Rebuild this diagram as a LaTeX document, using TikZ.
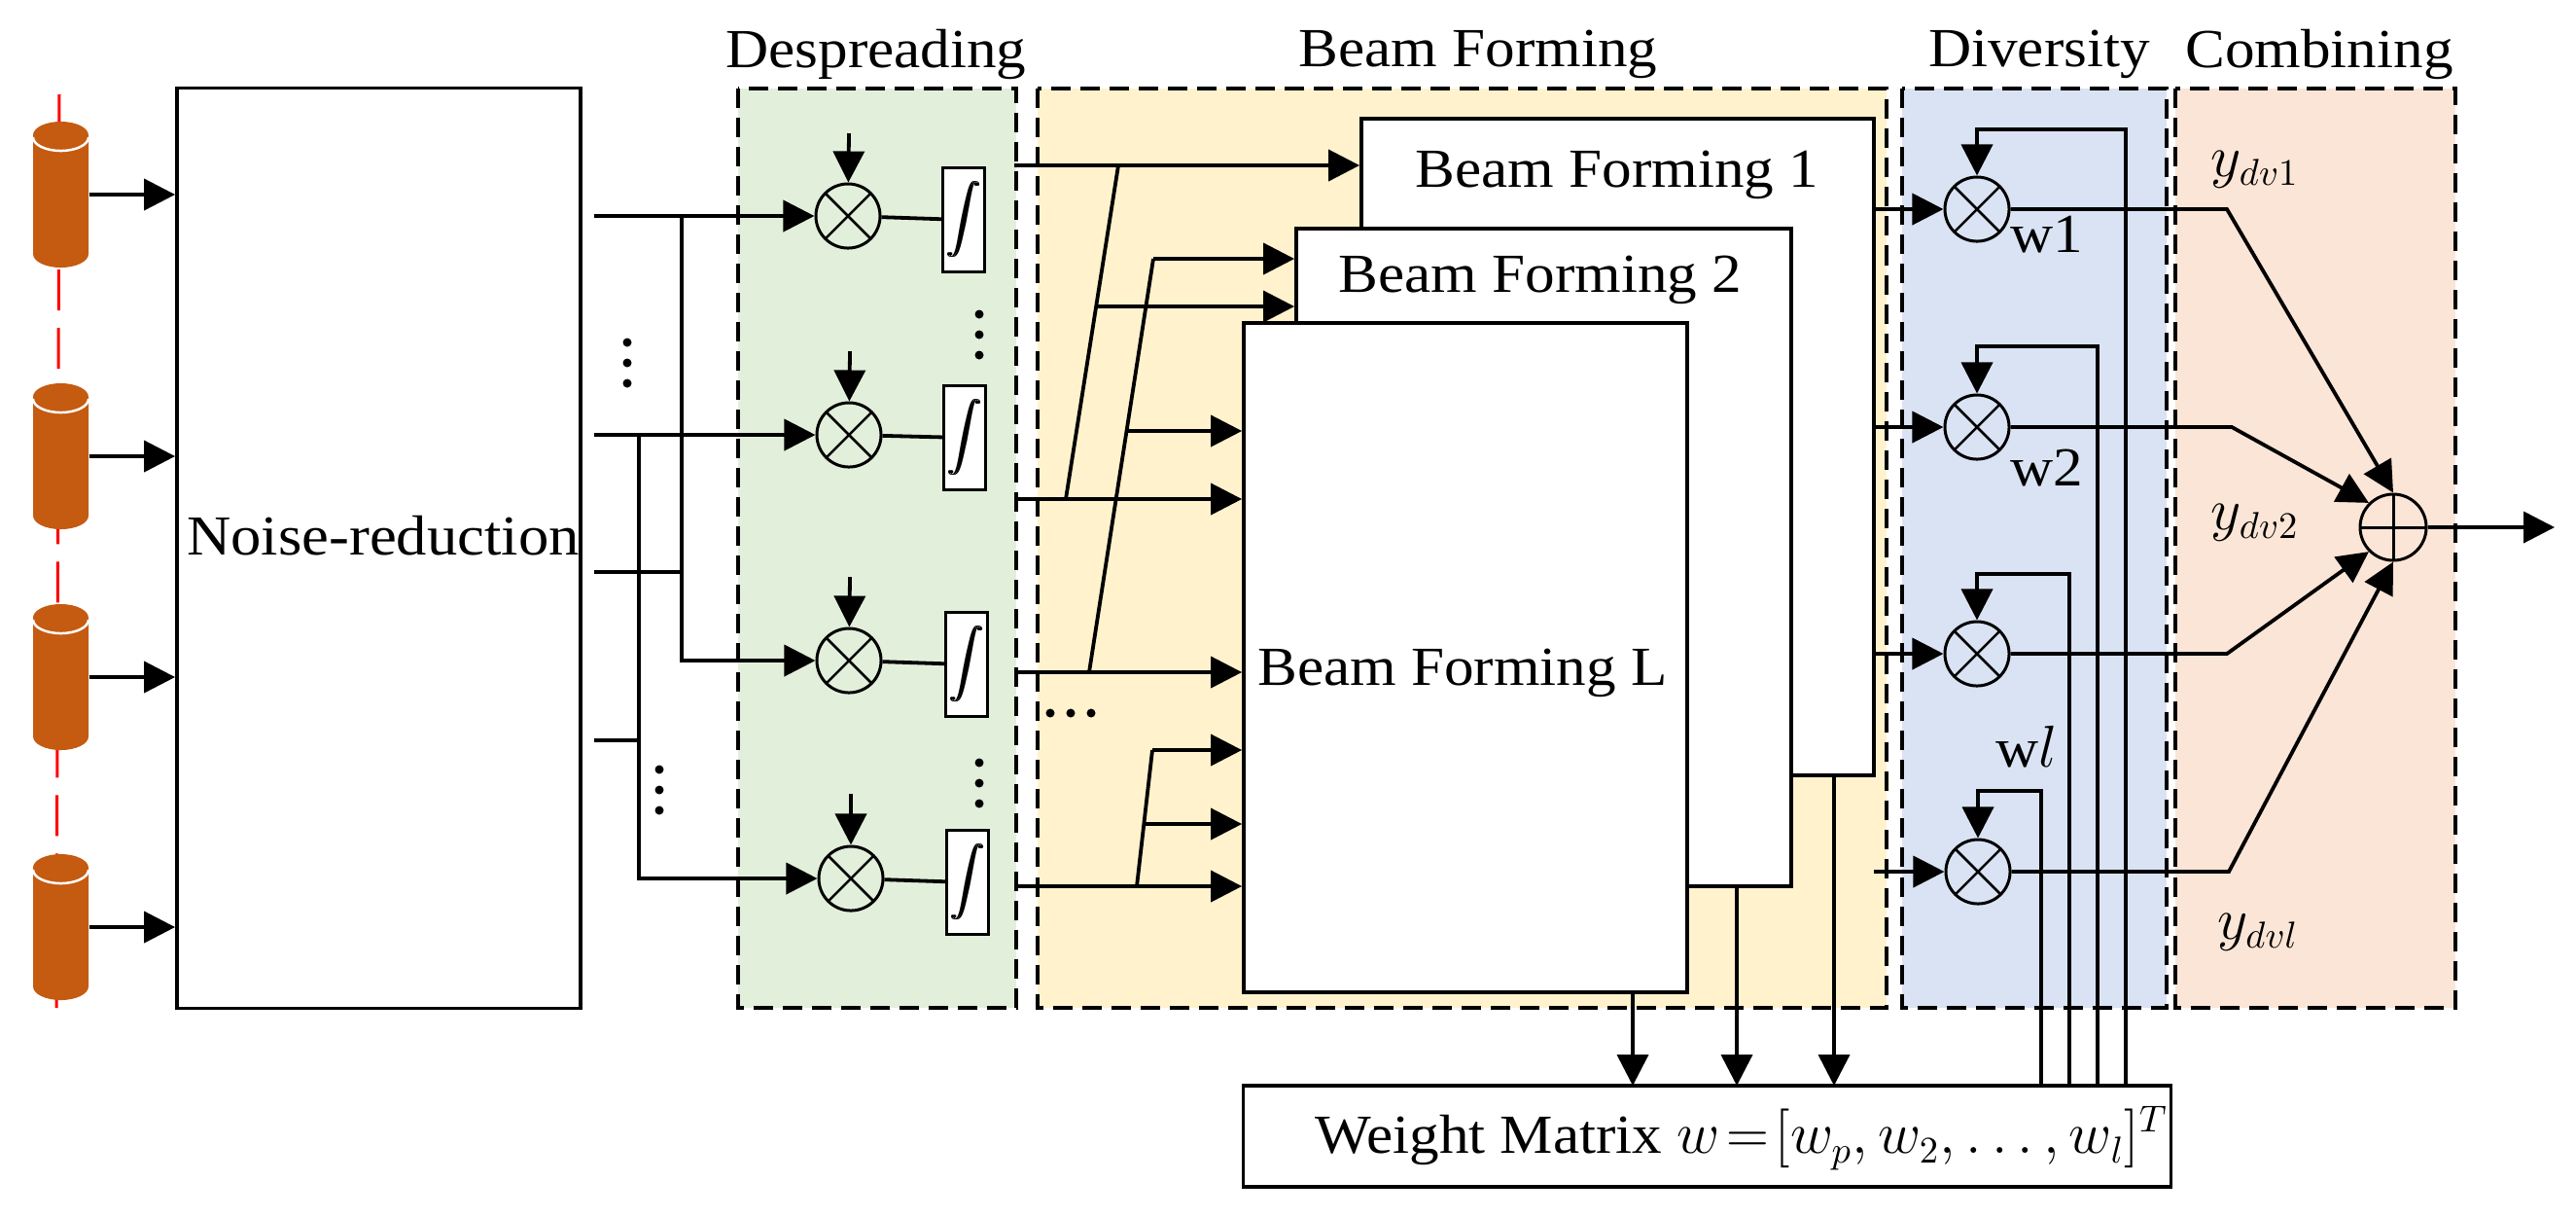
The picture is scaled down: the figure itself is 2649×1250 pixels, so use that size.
\documentclass[tikz,border=0pt]{standalone}
\usepackage{fontspec}
\setmainfont[FakeStretch=1.08]{Liberation Serif}
\usetikzlibrary{arrows.meta}
\definecolor{antorange}{HTML}{C55A11}
\definecolor{despgreen}{HTML}{E2EFDA}
\definecolor{beamyellow}{HTML}{FFF2CC}
\definecolor{divblue}{HTML}{DAE3F3}
\definecolor{combpeach}{HTML}{FBE5D6}
\tikzset{
    txt/.style={font=\fontsize{16.1}{20}\selectfont},
    box/.style={draw,line width=0.035cm,fill=white,inner sep=0pt,txt},
    region/.style={draw,dashed,line width=0.035cm,dash pattern=on 0.2cm off 0.1cm},
    antnode/.style={inner sep=0pt,minimum width=0.57cm,minimum height=1.51cm},
    mult/.style={circle,draw,line width=0.03cm,minimum size=0.66cm,inner sep=0pt,
        path picture={\draw[line width=0.025cm] (path picture bounding box.north west) -- (path picture bounding box.south east)
            (path picture bounding box.north east) -- (path picture bounding box.south west);}},
    adder/.style={circle,draw,line width=0.03cm,minimum size=0.68cm,inner sep=0pt,
        path picture={\draw[line width=0.03cm] (path picture bounding box.north) -- (path picture bounding box.south)
            (path picture bounding box.east) -- (path picture bounding box.west);}},
    intbox/.style={draw,line width=0.03cm,fill=white,minimum width=0.43cm,minimum height=1.06cm,inner sep=0pt,font=\fontsize{12}{14}\selectfont},
    wire/.style={line width=0.038cm},
    arr/.style={wire,-{Triangle[length=0.32cm,width=0.32cm]}},
    dot/.style={radius=0.045cm},
}
\newcommand{\thickint}{\rlap{$\displaystyle\int$}\kern0.4pt$\displaystyle\int$}
\newcommand{\antenna}[3]{
    \node[antnode] (#1) at (#2,#3) {};
    \begin{scope}[shift={(#2,#3)}]
        \fill[antorange] (-28.5,-61) -- (-28.5,61) arc[start angle=180,end angle=360,x radius=0.285cm,y radius=0.14cm]
            -- (28.5,-61) arc[start angle=0,end angle=180,x radius=0.285cm,y radius=0.14cm] -- cycle;
        \draw[white,line width=0.025cm] (-28.5,-59) arc[start angle=180,end angle=360,x radius=0.285cm,y radius=0.14cm];
    \end{scope}
}
\begin{document}
\begin{tikzpicture}[x=0.01cm,y=-0.01cm]
    \useasboundingbox (0,0) rectangle (2649,1250);
    \draw[red,line width=0.03cm,dashed,dash pattern=on 0.42cm off 0.18cm] (61,97) -- (58,1036);
    \antenna{c1}{62.5}{200}
    \antenna{c2}{62.5}{469}
    \antenna{c3}{62.5}{696}
    \antenna{c4}{62.5}{953}
    \node[box,minimum width=4.15cm,minimum height=9.45cm] (noise) at (389.5,563.5) {};
    \node[font=\fontsize{16.5}{20}\selectfont] (noisetext) at (394,551) {Noise-reduction};
    \draw[arr] (c1.east) -- (c1.east -| noise.west);
    \draw[arr] (c2.east) -- (c2.east -| noise.west);
    \draw[arr] (c3.east) -- (c3.east -| noise.west);
    \draw[arr] (c4.east) -- (c4.east -| noise.west);

    \draw[region,fill=despgreen] (759,91) rectangle (1045,1036);
    \draw[region,fill=beamyellow] (1067,91) rectangle (1940,1036);
    \draw[region,fill=divblue] (1956,91) rectangle (2228,1036);
    \draw[region,fill=combpeach] (2237,91) rectangle (2525,1036);
    \node[txt] (desptitle) at (901,56) {Despreading};
    \node[txt] (beamtitle) at (1520,56) {Beam Forming};
    \node[txt] (divtitle) at (2097,56) {Diversity};
    \node[txt] (combtitle) at (2385,56) {Combining};

    \node[mult] (m1) at (872,222) {};
    \node[mult] (m2) at (873,447) {};
    \node[mult] (m3) at (873,679) {};
    \node[mult] (m4) at (875,903) {};
    \node[intbox] (i1) at (991,226) {\thickint};
    \node[intbox] (i2) at (992,450) {\thickint};
    \node[intbox] (i3) at (994,683) {\thickint};
    \node[intbox] (i4) at (995,907) {\thickint};
    \draw[wire] (m1) -- (i1);
    \draw[wire] (m2) -- (i2);
    \draw[wire] (m3) -- (i3);
    \draw[wire] (m4) -- (i4);
    \coordinate (s1) at (873,137);
    \coordinate (s2) at (874,361);
    \coordinate (s3) at (874,593);
    \coordinate (s4) at (875,816);
    \draw[arr] (s1) -- (m1);
    \draw[arr] (s2) -- (m2);
    \draw[arr] (s3) -- (m3);
    \draw[arr] (s4) -- (m4);

    \coordinate (n1) at (611,222);
    \coordinate (n2) at (611,447);
    \coordinate (n3) at (611,588);
    \coordinate (n4) at (611,761);
    \coordinate (busa) at (701,222);
    \coordinate (busb) at (701,588);
    \coordinate (busc) at (701,679);
    \coordinate (busd) at (657,447);
    \coordinate (buse) at (657,761);
    \coordinate (busf) at (657,903);
    \draw[arr] (n1) -- (m1);
    \draw[arr] (n2) -- (m2);
    \draw[wire] (n3) -- (busb);
    \draw[wire] (n4) -- (buse);
    \draw[arr] (busa) -- (busc) -- (m3);
    \draw[arr] (busd) -- (busf) -- (m4);
    \fill (645,352) circle[dot] (645,373) circle[dot] (645,394) circle[dot];
    \fill (678,791) circle[dot] (678,812) circle[dot] (678,833) circle[dot];
    \fill (1007,323) circle[dot] (1007,344) circle[dot] (1007,365) circle[dot];
    \fill (1007,784) circle[dot] (1007,805) circle[dot] (1007,826) circle[dot];
    \fill (1080,733) circle[dot] (1101,733) circle[dot] (1122,733) circle[dot];

    \node[box,minimum width=5.27cm,minimum height=6.75cm] (bf1) at (1663.5,459.5) {};
    \node[txt] (bf1text) at (1663,180) {Beam Forming 1};
    \node[box,minimum width=5.09cm,minimum height=6.76cm] (bf2) at (1587.5,573) {};
    \node[txt] (bf2text) at (1584,288) {Beam Forming 2};
    \node[box,minimum width=4.56cm,minimum height=6.88cm] (bfl) at (1507,676) {};
    \node[txt] (bfltext) at (1504,692) {Beam Forming L};

    \coordinate (o1) at (1043,170);
    \coordinate (o2) at (1043,513);
    \coordinate (o3) at (1043,691);
    \coordinate (o4) at (1043,911);
    \coordinate (a1) at (1096,513);
    \coordinate (a2) at (1150,170);
    \coordinate (a3) at (1128,315);
    \coordinate (b1) at (1120,691);
    \coordinate (b2) at (1186,266);
    \coordinate (b3) at (1159,443);
    \coordinate (e1) at (1169,911);
    \coordinate (e2) at (1185,771);
    \coordinate (e3) at (1177,847);
    \draw[arr] (o1) -- (o1 -| bf1.west);
    \draw[arr] (o2) -- (o2 -| bfl.west);
    \draw[arr] (o3) -- (o3 -| bfl.west);
    \draw[arr] (o4) -- (o4 -| bfl.west);
    \draw[wire] (a1) -- (a2);
    \draw[arr] (a3) -- (a3 -| bf2.west);
    \draw[wire] (b1) -- (b2);
    \draw[arr] (b2) -- (b2 -| bf2.west);
    \draw[arr] (b3) -- (b3 -| bfl.west);
    \draw[wire] (e1) -- (e2);
    \draw[arr] (e2) -- (e2 -| bfl.west);
    \draw[arr] (e3) -- (e3 -| bfl.west);

    \node[box,minimum width=9.53cm,minimum height=1.04cm] (weight) at (1755.5,1168) {};
    \node[txt] (weighttext) at (1791,1170) {\thinmuskip=3mu\medmuskip=2mu\thickmuskip=2mu Weight Matrix $w=[w_p,w_2,\ldots,w_l]^T$};
    \coordinate (t1) at (1679,1116);
    \coordinate (t2) at (1786,1116);
    \coordinate (t3) at (1886,1116);
    \draw[arr] (bfl.south -| t1) -- (t1);
    \draw[arr] (bf2.south -| t2) -- (t2);
    \draw[arr] (bf1.south -| t3) -- (t3);

    \node[mult] (d1) at (2033,215) {};
    \node[mult] (d2) at (2033,439) {};
    \node[mult] (d3) at (2033,672) {};
    \node[mult] (d4) at (2034,896) {};
    \coordinate (u1) at (1927,215);
    \coordinate (u2) at (1927,439);
    \coordinate (u3) at (1927,672);
    \coordinate (u4) at (1927,896);
    \draw[arr] (u1) -- (d1);
    \draw[arr] (u2) -- (d2);
    \draw[arr] (u3) -- (d3);
    \draw[arr] (u4) -- (d4);
    \coordinate (w1) at (2186,1116);
    \coordinate (w2) at (2157,1116);
    \coordinate (w3) at (2128,1116);
    \coordinate (w4) at (2099,1116);
    \coordinate (k1) at (2033,133);
    \coordinate (k2) at (2033,356);
    \coordinate (k3) at (2033,590);
    \coordinate (k4) at (2034,813);
    \draw[arr] (w1) |- (k1) -- (d1);
    \draw[arr] (w2) |- (k2) -- (d2);
    \draw[arr] (w3) |- (k3) -- (d3);
    \draw[arr] (w4) |- (k4) -- (d4);
    \node[txt] (w1text) at (2105,241) {w1};
    \node[txt] (w2text) at (2105,481) {w2};
    \node[txt] (wltext) at (2084,768) {w$l$};

    \node[adder] (sum) at (2461,542) {};
    \coordinate (q1) at (2290,215);
    \coordinate (q2) at (2295,439);
    \coordinate (q3) at (2290,672);
    \coordinate (q4) at (2292,896);
    \coordinate (out) at (2627,542);
    \draw[arr] (d1) -- (q1) -- (sum.north);
    \draw[arr] (d2) -- (q2) -- (sum.north west);
    \draw[arr] (d3) -- (q3) -- (sum.south west);
    \draw[arr] (d4) -- (q4) -- (sum.south);
    \draw[arr] (sum) -- (out);
    \node[txt] (y1text) at (2319,174) {$y_{dv1}$};
    \node[txt] (y2text) at (2319,537) {$y_{dv2}$};
    \node[txt] (yltext) at (2322,958) {$y_{dvl}$};
\end{tikzpicture}
\end{document}
